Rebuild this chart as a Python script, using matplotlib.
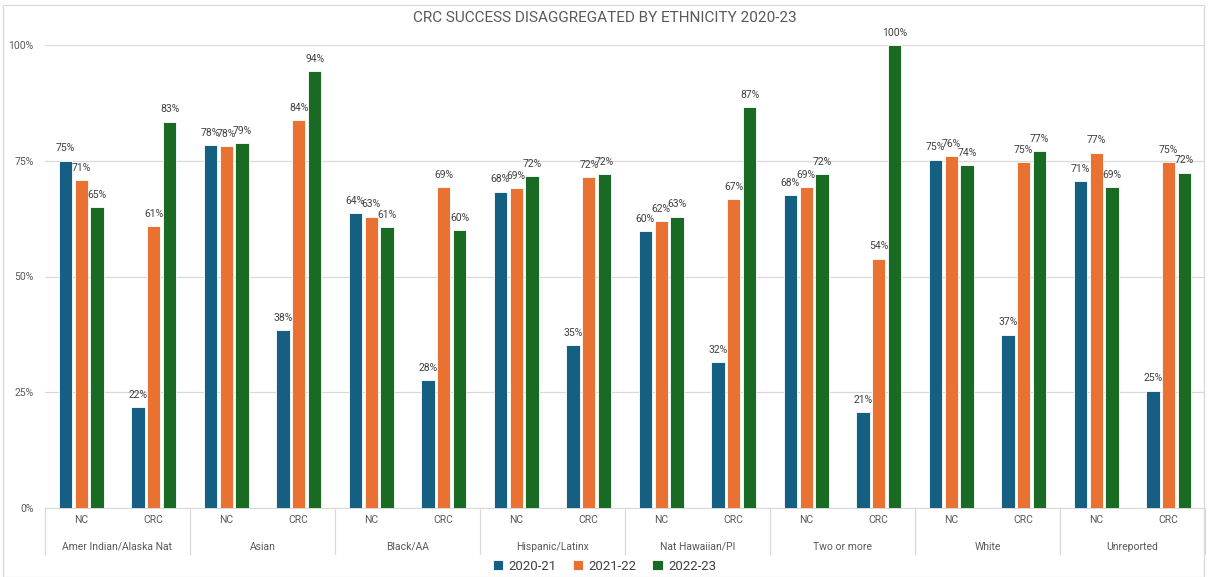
import matplotlib
matplotlib.use('Agg')
import matplotlib.pyplot as plt
from matplotlib.patches import Rectangle
import numpy as np

plt.rcParams['font.family'] = ['Roboto', 'DejaVu Sans']

# Data (success rates in %)
groups = ['Amer Indian/Alaska Nat', 'Asian', 'Black/AA', 'Hispanic/Latinx',
          'Nat Hawaiian/PI', 'Two or more', 'White', 'Unreported']
subcats = ['NC', 'CRC']
series = ['2020-21', '2021-22', '2022-23']

# order: for each group, NC then CRC
y2021 = [75.0, 21.8, 78.4, 38.4, 63.7, 27.6, 68.3, 35.2, 59.8, 31.5, 67.6, 20.7, 75.2, 37.4, 70.6, 25.3]
y2122 = [70.8, 60.9, 78.2, 83.8, 62.9, 69.3, 69.1, 71.5, 62.0, 66.7, 69.3, 53.8, 76.0, 74.7, 76.7, 74.7]
y2223 = [65.0, 83.4, 78.8, 94.4, 60.7, 60.0, 71.7, 72.1, 62.9, 86.6, 72.1, 100.0, 74.1, 77.1, 69.3, 72.4]

colors = ['#156082', '#E97132', '#196B24']

fig = plt.figure(figsize=(12.09, 5.77), dpi=100)
ax = fig.add_axes([45/1209, 1 - 508/577, 1160/1209, 463/577])

x = np.arange(len(y2021)) + 0.5
offsets = [-0.22, 0.0, 0.22]
for vals, off, col, name in zip([y2021, y2122, y2223], offsets, colors, series):
    bars = ax.bar(x + off, vals, width=0.185, color=col, edgecolor='white', linewidth=0.6, label=name, zorder=3)
    for b, v in zip(bars, vals):
        ax.text(b.get_x() + b.get_width() / 2, v + 1.6, f'{round(v):.0f}%', ha='center', va='bottom',
                fontsize=7.5, color='#404040', zorder=4)

ax.set_xlim(0, len(y2021))
ax.set_ylim(0, 100)
ax.set_yticks([0, 25, 50, 75, 100])
ax.set_yticklabels(['0%', '25%', '50%', '75%', '100%'], fontsize=7.5, color='#595959')
ax.set_xticks([])
ax.tick_params(axis='y', length=0, pad=8)
ax.grid(axis='y', color='#d9d9d9', linewidth=0.9, zorder=0)
for s in ['top', 'right', 'left']:
    ax.spines[s].set_visible(False)
ax.spines['bottom'].set_color('#d9d9d9')

# Two-level category axis
trans = ax.get_xaxis_transform()
for i, xv in enumerate(x):
    ax.text(xv, -0.026, subcats[i % 2], transform=trans, ha='center', va='center',
            fontsize=7.5, color='#595959')
for g, name in enumerate(groups):
    ax.text(2 * g + 1, -0.084, name, transform=trans, ha='center', va='center',
            fontsize=7.5, color='#595959')
for g in range(len(groups) + 1):
    ax.plot([2 * g, 2 * g], [0, -0.1], transform=trans, color='#d9d9d9', linewidth=0.9, clip_on=False)

fig.text(0.5, 1 - 18/577, 'CRC SUCCESS DISAGGREGATED BY ETHNICITY 2020-23', ha='center', va='center',
         fontsize=11, color='#595959')

fig.legend(loc='center', bbox_to_anchor=(0.5, 11/577), ncol=3, frameon=False, fontsize=9.5,
           handlelength=0.8, handleheight=0.8, handletextpad=0.4, columnspacing=1.2,
           labelcolor='#404040')

fig.patches.append(Rectangle((3/1209, 0), 1 - 8/1209, 1 - 5/577, transform=fig.transFigure,
                             fill=False, edgecolor='#d9d9d9', linewidth=0.9))

fig.savefig('out.png', dpi=100)
